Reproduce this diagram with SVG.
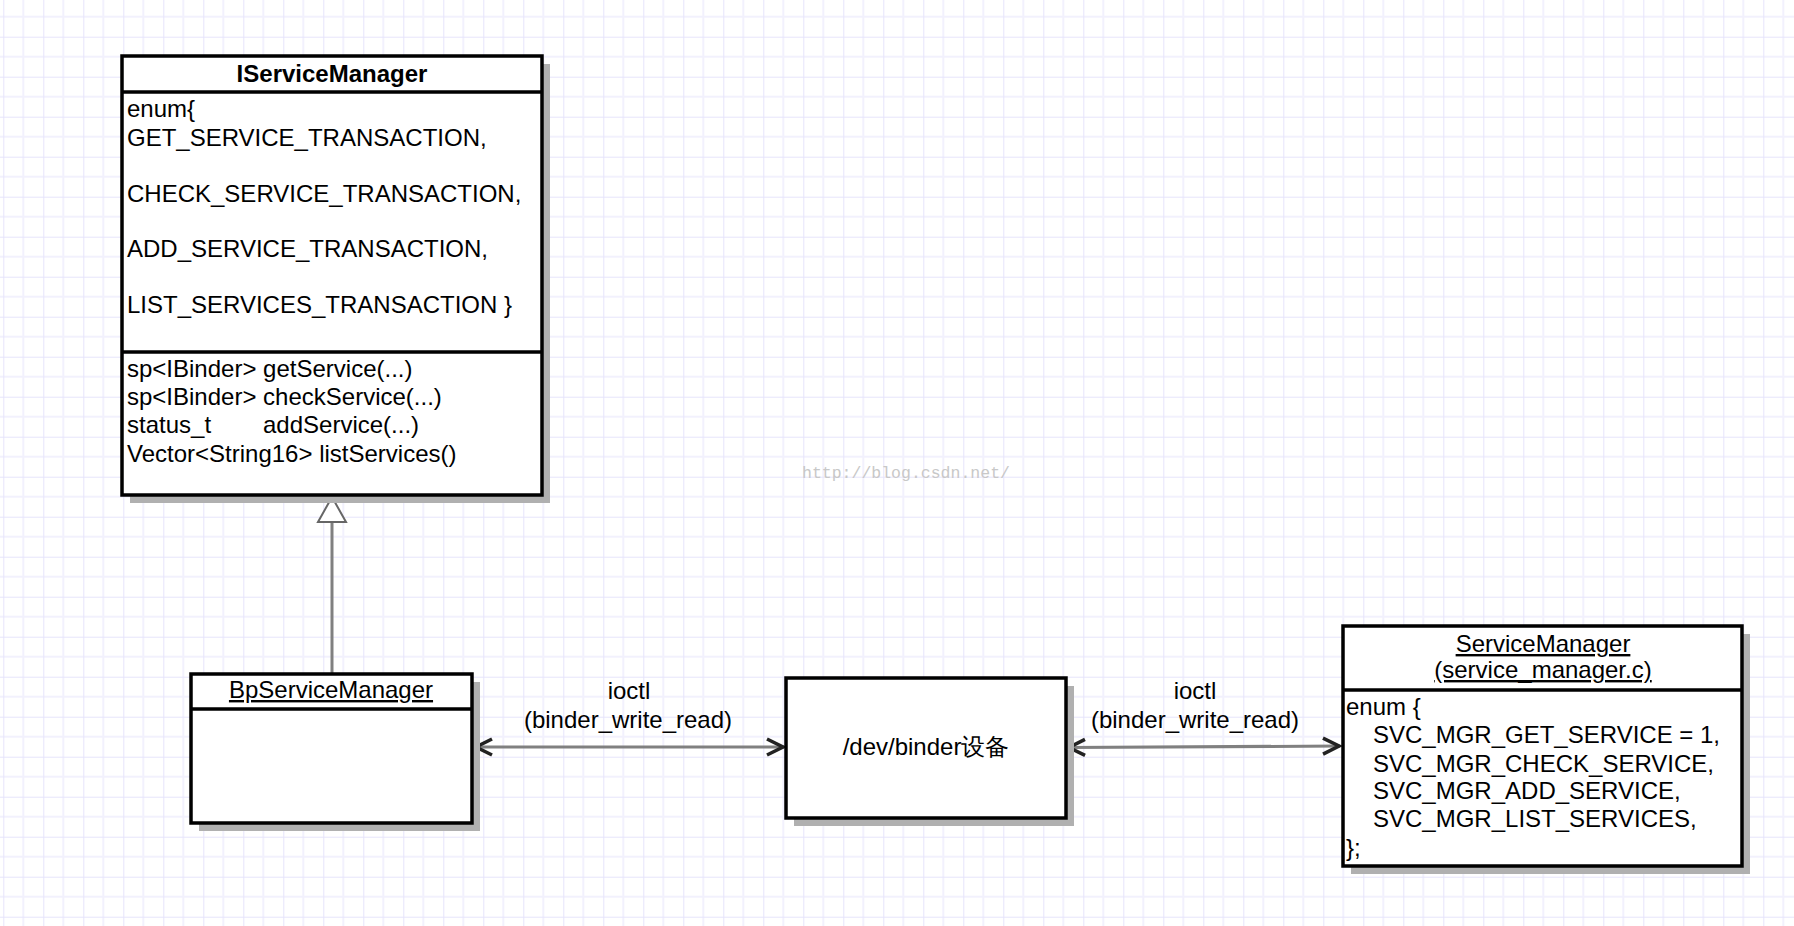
<svg xmlns="http://www.w3.org/2000/svg" width="1794" height="926" viewBox="0 0 1794 926">
<defs>
<pattern id="grid" patternUnits="userSpaceOnUse" x="3.3" y="-3.3" width="40" height="40">
<rect width="40" height="40" fill="#ffffff"/>
<path d="M20 0 V40 M0 20 H40" stroke="#f2f1fd" stroke-width="2" fill="none"/>
<path d="M0 0 V40 M0 0 H40" stroke="#e6e4fb" stroke-width="2" fill="none"/>
</pattern>
<marker id="open" viewBox="-22 -11 24 22" refX="0" refY="0" markerWidth="24" markerHeight="22" markerUnits="userSpaceOnUse" orient="auto-start-reverse">
<path d="M-17 -8 L-1 0 L-17 8" fill="none" stroke="#222" stroke-width="3.5" stroke-linejoin="miter"/>
</marker>
</defs>
<style>
.box{fill:#fff;stroke:#000;stroke-width:3.5}
.shadow{fill:#b0b0b0}
.sep{stroke:#000;stroke-width:3.5}
.t{font-family:"Liberation Sans",Arial,sans-serif;font-size:24px;fill:#000}
.c{text-anchor:middle}
.u{text-decoration:underline}
.b{font-weight:bold}
.conn{stroke:#808080;stroke-width:3;fill:none}
</style>
<rect width="1794" height="926" fill="url(#grid)"/>
<text x="802" y="478" font-family="'Liberation Mono',monospace" font-size="16.5" fill="#c8c8c8">http://blog.csdn.net/</text>

<g id="connectors">
<line class="conn" x1="332" y1="522" x2="332" y2="673"/>
<path d="M332 497 L346 522 L318 522 Z" fill="#fff" stroke="#666" stroke-width="2"/>
<line class="conn" x1="475" y1="747" x2="784" y2="747" marker-start="url(#open)" marker-end="url(#open)"/>
<line class="conn" x1="1068" y1="747.5" x2="1340" y2="746" marker-start="url(#open)" marker-end="url(#open)"/>
<text class="t c" x="629" y="699">ioctl</text>
<text class="t c" x="628" y="728">(binder_write_read)</text>
<text class="t c" x="1195" y="699">ioctl</text>
<text class="t c" x="1195" y="728">(binder_write_read)</text>
</g>

<g id="IServiceManager">
<rect class="shadow" x="130" y="64" width="420" height="439"/>
<rect class="box" x="122" y="56" width="420" height="439"/>
<line class="sep" x1="122" y1="92" x2="542" y2="92"/>
<line class="sep" x1="122" y1="352" x2="542" y2="352"/>
<text class="t c b" x="332" y="82">IServiceManager</text>
<text class="t" x="127" y="117">enum{</text>
<text class="t" x="127" y="146">GET_SERVICE_TRANSACTION,</text>
<text class="t" x="127" y="202">CHECK_SERVICE_TRANSACTION,</text>
<text class="t" x="127" y="257">ADD_SERVICE_TRANSACTION,</text>
<text class="t" x="127" y="313">LIST_SERVICES_TRANSACTION }</text>
<text class="t" x="127" y="377">sp&lt;IBinder&gt; getService(...)</text>
<text class="t" x="127" y="405">sp&lt;IBinder&gt; checkService(...)</text>
<text class="t" x="127" y="433">status_t<tspan x="263">addService(...)</tspan></text>
<text class="t" x="127" y="462">Vector&lt;String16&gt; listServices()</text>
</g>

<g id="BpServiceManager">
<rect class="shadow" x="199" y="682" width="281" height="149"/>
<rect class="box" x="191" y="674" width="281" height="149"/>
<line class="sep" x1="191" y1="709" x2="472" y2="709"/>
<text class="t c u" x="331" y="698">BpServiceManager</text>
</g>

<g id="binder">
<rect class="shadow" x="794" y="686" width="280" height="140"/>
<rect class="box" x="786" y="678" width="280" height="140"/>
<text class="t c" x="926" y="755" font-family="'Liberation Sans','Noto Sans CJK SC',sans-serif">/dev/binder设备</text>
</g>

<g id="ServiceManager">
<rect class="shadow" x="1351" y="634" width="399" height="240"/>
<rect class="box" x="1343" y="626" width="399" height="240"/>
<line class="sep" x1="1343" y1="690" x2="1742" y2="690"/>
<text class="t c u" x="1543" y="652">ServiceManager</text>
<text class="t c u" x="1543" y="678">(service_manager.c)</text>
<text class="t" x="1346" y="715">enum {</text>
<text class="t" x="1373" y="743">SVC_MGR_GET_SERVICE = 1,</text>
<text class="t" x="1373" y="772">SVC_MGR_CHECK_SERVICE,</text>
<text class="t" x="1373" y="799">SVC_MGR_ADD_SERVICE,</text>
<text class="t" x="1373" y="827">SVC_MGR_LIST_SERVICES,</text>
<text class="t" x="1346" y="856">};</text>
</g>
</svg>
